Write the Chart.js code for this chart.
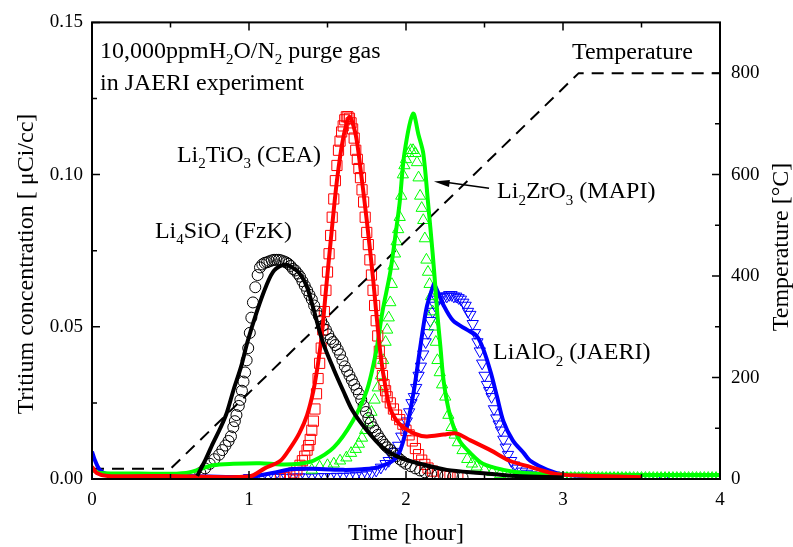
<!DOCTYPE html>
<html><head><meta charset="utf-8">
<script src="https://cdn.jsdelivr.net/npm/chart.js@4"></script>
<style>html,body{margin:0;padding:0;background:#fff;}canvas{display:block;}</style>
</head><body>
<canvas id="c" width="793" height="547"></canvas>
<script>
// ---- tick labels ----
const xTicks = [0, 1, 2, 3, 4];
const yTicks = [0, 0.05, 0.10, 0.15];
const tTicks = [0, 200, 400, 600, 800];
const xMinor = [0.5, 1.5, 2.5, 3.5];
const yMinor = [0.025, 0.075, 0.125];
const tMinor = [100, 300, 500, 700];

// ---- temperature program (right axis, °C) ----
const tempTime  = [0, 0.5, 3.1, 4.0];
const tempValue = [20, 20, 800, 800];

// ---- Li4SiO4 (FzK) ----
const fzkFitT = [0.67,0.72,0.77,0.82,0.86,0.90,0.95,0.99,1.05,1.11,1.16,1.23,1.29,1.33,1.37,1.41,1.47,1.54,1.60,1.66,1.75,1.85,1.96,2.09,2.26,2.47,2.70,3.00];
const fzkFitV = [0.001,0.006,0.0117,0.017,0.022,0.029,0.037,0.045,0.055,0.0635,0.0685,0.0705,0.069,0.067,0.063,0.056,0.045,0.036,0.029,0.0224,0.016,0.0104,0.007,0.005,0.003,0.002,0.001,0.0005];
const fzkExpT = [0.69,0.72,0.75,0.78,0.81,0.83,0.85,0.87,0.885,0.90,0.91,0.92,0.935,0.945,0.955,0.965,0.975,0.985,0.995,1.005,1.015,1.025,1.04,1.055,1.07,1.085,1.10,1.115,1.13,1.145,1.16,1.175,1.19,1.205,1.22,1.235,1.25,1.265,1.28,1.295,1.31,1.325,1.34,1.355,1.37,1.385,1.40,1.415,1.43,1.445,1.46,1.475,1.49,1.505,1.52,1.535,1.55,1.565,1.58,1.595,1.61,1.625,1.64,1.655,1.67,1.685,1.70,1.715,1.73,1.745,1.76,1.775,1.79,1.805,1.82,1.835,1.85,1.865,1.88,1.90,1.92,1.94,1.96,1.98,2.00,2.03,2.06,2.09,2.12,2.16,2.20,2.25,2.30,2.36];
const fzkExpV = [0.002,0.0035,0.005,0.0065,0.008,0.0095,0.011,0.0125,0.014,0.017,0.019,0.021,0.024,0.026,0.029,0.032,0.035,0.039,0.043,0.048,0.053,0.058,0.063,0.067,0.0695,0.0705,0.071,0.0712,0.0715,0.0718,0.072,0.072,0.072,0.0718,0.0715,0.0712,0.0707,0.070,0.069,0.0685,0.0675,0.0665,0.065,0.0635,0.062,0.0605,0.059,0.057,0.055,0.0535,0.052,0.0505,0.049,0.0475,0.046,0.045,0.044,0.0425,0.041,0.039,0.037,0.0355,0.034,0.0325,0.031,0.0295,0.028,0.026,0.024,0.022,0.020,0.0185,0.017,0.0158,0.0145,0.0133,0.0122,0.0112,0.0104,0.0095,0.0085,0.0075,0.0065,0.0057,0.005,0.0042,0.0035,0.0028,0.0022,0.0017,0.0013,0.001,0.0007,0.0005];

// ---- Li2TiO3 (CEA) ----
const ceaFitT = [0,0.03,0.1,0.5,1.0,1.1,1.2,1.26,1.32,1.37,1.41,1.44,1.465,1.49,1.52,1.56,1.60,1.64,1.68,1.71,1.75,1.79,1.81,1.84,1.87,1.90,1.96,2.05,2.13,2.24,2.32,2.41,2.54,2.66,2.79,2.96,3.2,3.5];
const ceaFitV = [0.004,0.002,0.001,0.001,0.0008,0.0035,0.006,0.010,0.015,0.021,0.029,0.038,0.048,0.062,0.078,0.098,0.112,0.119,0.113,0.102,0.085,0.066,0.055,0.040,0.030,0.023,0.018,0.015,0.014,0.0146,0.015,0.0127,0.0094,0.006,0.004,0.0016,0.001,0.0006];
const ceaExpT = [1.20,1.23,1.26,1.285,1.305,1.325,1.34,1.355,1.37,1.38,1.39,1.40,1.41,1.42,1.43,1.44,1.45,1.46,1.47,1.48,1.49,1.50,1.51,1.52,1.53,1.54,1.55,1.56,1.57,1.58,1.59,1.60,1.61,1.62,1.63,1.64,1.65,1.66,1.67,1.68,1.69,1.70,1.71,1.72,1.73,1.74,1.75,1.76,1.77,1.78,1.79,1.80,1.81,1.82,1.83,1.84,1.85,1.86,1.87,1.88,1.90,1.92,1.94,1.96,1.98,2.00,2.02,2.04,2.06,2.08,2.10,2.12,2.14,2.17,2.20,2.24,2.28,2.33];
const ceaExpV = [0.0002,0.0005,0.001,0.002,0.003,0.0045,0.006,0.0075,0.0095,0.011,0.013,0.016,0.019,0.023,0.028,0.033,0.038,0.043,0.049,0.055,0.062,0.068,0.074,0.080,0.086,0.092,0.098,0.103,0.108,0.111,0.114,0.116,0.118,0.119,0.119,0.1185,0.117,0.115,0.112,0.108,0.105,0.102,0.099,0.095,0.091,0.086,0.081,0.077,0.072,0.067,0.062,0.057,0.052,0.047,0.042,0.038,0.034,0.031,0.029,0.027,0.025,0.023,0.021,0.0195,0.018,0.016,0.0145,0.0125,0.010,0.008,0.0062,0.0048,0.0036,0.0026,0.0018,0.0012,0.0008,0.0005];

// ---- Li2ZrO3 (MAPI) ----
const mapiFitT = [0,0.05,0.3,0.6,0.77,0.9,1.07,1.2,1.32,1.41,1.54,1.66,1.75,1.81,1.85,1.90,1.93,1.96,1.99,2.045,2.08,2.11,2.14,2.17,2.19,2.20,2.22,2.24,2.28,2.34,2.41,2.49,2.62,2.75,3.0,3.5,4.0];
const mapiFitV = [0.003,0.002,0.0018,0.002,0.0045,0.005,0.0052,0.0048,0.005,0.006,0.0104,0.019,0.029,0.042,0.055,0.068,0.079,0.091,0.107,0.120,0.113,0.107,0.091,0.074,0.061,0.054,0.043,0.032,0.021,0.0127,0.0085,0.005,0.003,0.002,0.0015,0.0013,0.0013];
const mapiExpT = [1.40,1.45,1.50,1.54,1.58,1.62,1.65,1.68,1.70,1.72,1.74,1.76,1.78,1.80,1.82,1.84,1.855,1.87,1.88,1.89,1.90,1.91,1.92,1.93,1.94,1.95,1.96,1.97,1.98,1.99,2.00,2.015,2.03,2.045,2.06,2.07,2.08,2.09,2.10,2.11,2.12,2.13,2.14,2.15,2.16,2.17,2.18,2.19,2.20,2.215,2.23,2.25,2.27,2.29,2.31,2.33,2.36,2.39,2.42,2.45,2.50,2.55,2.60,2.65,2.675,2.70,2.725,2.75,2.775,2.80,2.825,2.85,2.875,2.90,2.925,2.95,2.975,3.00,3.025,3.05,3.075,3.10,3.125,3.15,3.175,3.20,3.225,3.25,3.275,3.30,3.325,3.35,3.375,3.40,3.425,3.45,3.475,3.50,3.525,3.55,3.575,3.60,3.625,3.65,3.675,3.70,3.725,3.75,3.775,3.80,3.825,3.85,3.875,3.90,3.925,3.95,3.975,4.00];
const mapiExpV = [0.003,0.004,0.0045,0.005,0.006,0.007,0.0085,0.0098,0.0115,0.0135,0.016,0.0185,0.022,0.026,0.030,0.034,0.039,0.045,0.049,0.053,0.058,0.064,0.070,0.074,0.078,0.082,0.086,0.093,0.100,0.103,0.105,0.107,0.108,0.108,0.107,0.104,0.099,0.093,0.089,0.085,0.079,0.072,0.068,0.064,0.060,0.055,0.050,0.045,0.039,0.035,0.031,0.027,0.021,0.017,0.0145,0.012,0.0094,0.0065,0.005,0.004,0.003,0.0022,0.0015,0.001,0.0006,0.0004,0.0003,0.0003,0.0003,0.0003,0.0003,0.0003,0.0003,0.0003,0.0003,0.0003,0.0003,0.0003,0.0003,0.0003,0.0003,0.0003,0.0003,0.0003,0.0003,0.0003,0.0003,0.0003,0.0003,0.0003,0.0003,0.0003,0.0003,0.0003,0.0003,0.0003,0.0003,0.0003,0.0003,0.0003,0.0003,0.0003,0.0003,0.0003,0.0003,0.0003,0.0003,0.0003,0.0003,0.0003,0.0003,0.0003,0.0003,0.0003,0.0003,0.0003,0.0003,0.0003];

// ---- LiAlO2 (JAERI) ----
const jaeriFitT = [0,0.02,0.05,0.1,0.3,0.6,1.0,1.15,1.28,1.45,1.6,1.72,1.83,1.94,2.0,2.05,2.09,2.13,2.17,2.18,2.24,2.30,2.39,2.45,2.49,2.54,2.58,2.62,2.68,2.75,2.79,2.9,3.0,3.2];
const jaeriFitV = [0.009,0.006,0.003,0.0015,0.001,0.001,0.0007,0.002,0.0033,0.0033,0.003,0.0032,0.004,0.007,0.016,0.029,0.043,0.056,0.063,0.064,0.057,0.052,0.049,0.047,0.043,0.035,0.027,0.019,0.0127,0.0085,0.006,0.003,0.0015,0.0008];
const jaeriExpT = [1.00,1.04,1.08,1.12,1.16,1.20,1.24,1.28,1.32,1.36,1.40,1.44,1.48,1.52,1.56,1.60,1.64,1.68,1.72,1.75,1.78,1.81,1.84,1.87,1.89,1.91,1.93,1.95,1.97,1.99,2.005,2.02,2.035,2.05,2.065,2.08,2.095,2.11,2.125,2.14,2.155,2.17,2.185,2.20,2.215,2.23,2.245,2.26,2.275,2.29,2.305,2.32,2.335,2.35,2.365,2.38,2.395,2.41,2.425,2.44,2.455,2.47,2.485,2.50,2.515,2.53,2.545,2.56,2.575,2.59,2.605,2.62,2.635,2.65,2.67,2.69,2.71,2.74,2.77,2.80,2.84,2.88,2.92,2.96,3.00,3.05,3.10,3.15,3.20,3.25,3.30,3.35,3.40,3.45,3.50,3.55,3.60,3.64];
const jaeriExpV = [0.0004,0.0004,0.0004,0.0005,0.0005,0.0005,0.0005,0.0006,0.0006,0.0006,0.0006,0.0007,0.0007,0.0007,0.0008,0.0008,0.0009,0.001,0.0012,0.0015,0.002,0.0028,0.0038,0.005,0.006,0.0075,0.009,0.011,0.014,0.017,0.019,0.022,0.025,0.027,0.030,0.034,0.037,0.041,0.045,0.048,0.052,0.055,0.057,0.059,0.0595,0.060,0.060,0.060,0.0605,0.0605,0.060,0.060,0.0595,0.059,0.058,0.057,0.055,0.054,0.051,0.048,0.045,0.042,0.038,0.034,0.031,0.029,0.027,0.023,0.020,0.018,0.016,0.013,0.0104,0.008,0.006,0.0045,0.0035,0.0025,0.0018,0.0013,0.001,0.0008,0.0006,0.0005,0.0004,0.0004,0.0004,0.0004,0.0004,0.0004,0.0004,0.0004,0.0004,0.0004,0.0004,0.0004,0.0004,0.0004];

const SERIF = "'Liberation Serif','Times New Roman',serif";
const RED = '#ff0000', GREEN = '#00ff00', BLUE = '#0000ff', BLACK = '#000000';

function pts(t, v) { return t.map((x, i) => ({ x: x, y: v[i] })); }

function lineDs(label, t, v, color) {
  return { label, data: pts(t, v), showLine: true, borderColor: color, borderWidth: 4,
    pointRadius: 0, tension: 0.3, yAxisID: 'y', order: 1 };
}
function markDs(label, t, v, color, style, r, rot) {
  return { label, data: pts(t, v), showLine: false, borderColor: color, backgroundColor: 'rgba(0,0,0,0)',
    pointStyle: style, pointRadius: r, pointRotation: rot || 0, pointBorderWidth: 1, yAxisID: 'y', order: 10 };
}

function richText(ctx, parts, x, y, size, align) {
  const sub = Math.round(size * 0.62);
  let w = 0;
  parts.forEach(p => { ctx.font = (p[1] ? sub : size) + 'px ' + SERIF; w += ctx.measureText(p[0]).width; });
  let cx = align === 'center' ? x - w / 2 : x;
  parts.forEach(p => {
    ctx.font = (p[1] ? sub : size) + 'px ' + SERIF;
    ctx.fillText(p[0], cx, y + (p[1] ? size * 0.26 : 0));
    cx += ctx.measureText(p[0]).width;
  });
}

const labels = [
  { t: 0.051, v: 0.1383, parts: [['10,000ppmH'], ['2', 1], ['O/N'], ['2', 1], [' purge gas']] },
  { t: 0.051, v: 0.1279, parts: [['in JAERI experiment']] },
  { t: 0.541, v: 0.1042, parts: [['Li'], ['2', 1], ['TiO'], ['3', 1], [' (CEA)']] },
  { t: 0.401, v: 0.0792, parts: [['Li'], ['4', 1], ['SiO'], ['4', 1], [' (FzK)']] },
  { t: 2.580, v: 0.0922, parts: [['Li'], ['2', 1], ['ZrO'], ['3', 1], [' (MAPI)']] },
  { t: 3.057, v: 0.1380, parts: [['Temperature']] },
  { t: 2.554, v: 0.0393, parts: [['LiAlO'], ['2', 1], [' (JAERI)']] }
];
const arrowFrom = { t: 2.529, v: 0.0955 };
const arrowTo = { t: 2.178, v: 0.0977 };

const framePlugin = {
  id: 'frame',
  afterDraw(chart) {
    const ctx = chart.ctx, a = chart.chartArea;
    const sx = chart.scales.x, sy = chart.scales.y, st = chart.scales.y1;
    ctx.save();
    ctx.strokeStyle = '#000'; ctx.fillStyle = '#000';
    ctx.lineWidth = 2;
    ctx.strokeRect(a.left, a.top, a.right - a.left, a.bottom - a.top);
    ctx.lineWidth = 1.5;
    ctx.beginPath();
    const tick = (x1, y1, x2, y2) => { ctx.moveTo(x1, y1); ctx.lineTo(x2, y2); };
    xTicks.forEach(v => { const p = sx.getPixelForValue(v); tick(p, a.bottom, p, a.bottom - 8); tick(p, a.top, p, a.top + 8); });
    xMinor.forEach(v => { const p = sx.getPixelForValue(v); tick(p, a.bottom, p, a.bottom - 5); tick(p, a.top, p, a.top + 5); });
    yTicks.forEach(v => { const p = sy.getPixelForValue(v); tick(a.left, p, a.left + 8, p); });
    yMinor.forEach(v => { const p = sy.getPixelForValue(v); tick(a.left, p, a.left + 5, p); });
    tTicks.forEach(v => { const p = st.getPixelForValue(v); tick(a.right, p, a.right - 8, p); });
    tMinor.forEach(v => { const p = st.getPixelForValue(v); tick(a.right, p, a.right - 5, p); });
    ctx.stroke();
    ctx.textBaseline = 'alphabetic';
    labels.forEach(l => richText(ctx, l.parts, sx.getPixelForValue(l.t), sy.getPixelForValue(l.v), 24, 'left'));
    const fx = sx.getPixelForValue(arrowFrom.t), fy = sy.getPixelForValue(arrowFrom.v);
    const tx = sx.getPixelForValue(arrowTo.t), ty = sy.getPixelForValue(arrowTo.v);
    ctx.lineWidth = 1.5;
    ctx.beginPath(); ctx.moveTo(fx, fy); ctx.lineTo(tx + 10, ty + 0.4); ctx.stroke();
    const ang = Math.atan2(ty - fy, tx - fx);
    ctx.beginPath();
    ctx.moveTo(tx, ty);
    ctx.lineTo(tx - 16 * Math.cos(ang - 0.22), ty - 16 * Math.sin(ang - 0.22));
    ctx.lineTo(tx - 16 * Math.cos(ang + 0.22), ty - 16 * Math.sin(ang + 0.22));
    ctx.closePath(); ctx.fill();
    ctx.font = '24px ' + SERIF;
    ctx.textAlign = 'center';
    ctx.fillText('Time [hour]', (a.left + a.right) / 2, 540);
    ctx.save(); ctx.translate(33, 264); ctx.rotate(-Math.PI / 2);
    ctx.fillText('Tritium concentration [ \u03BCCi/cc]', 0, 0); ctx.restore();
    ctx.save(); ctx.translate(788, 247); ctx.rotate(-Math.PI / 2);
    ctx.fillText('Temperature [\u00B0C]', 0, 0); ctx.restore();
    ctx.restore();
  }
};

const tickFont = { family: SERIF, size: 19 };

new Chart(document.getElementById('c'), {
  type: 'scatter',
  data: {
    datasets: [
      lineDs('Li4SiO4 fit', fzkFitT, fzkFitV, BLACK),
      lineDs('Li2TiO3 fit', ceaFitT, ceaFitV, RED),
      lineDs('Li2ZrO3 fit', mapiFitT, mapiFitV, GREEN),
      lineDs('LiAlO2 fit', jaeriFitT, jaeriFitV, BLUE),
      { label: 'Temperature', data: pts(tempTime, tempValue), showLine: true, borderColor: BLACK,
        borderWidth: 2, borderDash: [12, 8], pointRadius: 0, yAxisID: 'y1', order: 5 },
      markDs('Li4SiO4 (FzK)', fzkExpT, fzkExpV, BLACK, 'circle', 5.5),
      markDs('Li2TiO3 (CEA)', ceaExpT, ceaExpV, RED, 'rect', 7.2),
      markDs('Li2ZrO3 (MAPI)', mapiExpT, mapiExpV, GREEN, 'triangle', 6.5),
      markDs('LiAlO2 (JAERI)', jaeriExpT, jaeriExpV, BLUE, 'triangle', 6.5, 180)
    ]
  },
  options: {
    responsive: false, animation: false, devicePixelRatio: 1,
    layout: { padding: { top: 17, left: 0, right: 0, bottom: 0 } },
    plugins: { legend: { display: false }, tooltip: { enabled: false }, title: { display: false } },
    scales: {
      x: {
        type: 'linear', min: 0, max: 4,
        afterBuildTicks: s => { s.ticks = xTicks.map(v => ({ value: v })); },
        afterFit: s => { s.height = 68; },
        grid: { display: false, drawTicks: false }, border: { display: false },
        ticks: { font: tickFont, color: '#000', padding: 10, maxRotation: 0, callback: v => String(v) }
      },
      y: {
        type: 'linear', position: 'left', min: 0, max: 0.15,
        afterBuildTicks: s => { s.ticks = yTicks.map(v => ({ value: v })); },
        afterFit: s => { s.width = 92; },
        grid: { display: false, drawTicks: false }, border: { display: false },
        ticks: { font: tickFont, color: '#000', padding: 9, callback: v => Number(v).toFixed(2) }
      },
      y1: {
        type: 'linear', position: 'right', min: 0, max: 900,
        afterBuildTicks: s => { s.ticks = tTicks.map(v => ({ value: v })); },
        afterFit: s => { s.width = 73; },
        grid: { display: false, drawTicks: false }, border: { display: false },
        ticks: { font: tickFont, color: '#000', padding: 11, callback: v => String(v) }
      }
    }
  },
  plugins: [framePlugin]
});
</script>
</body></html>
